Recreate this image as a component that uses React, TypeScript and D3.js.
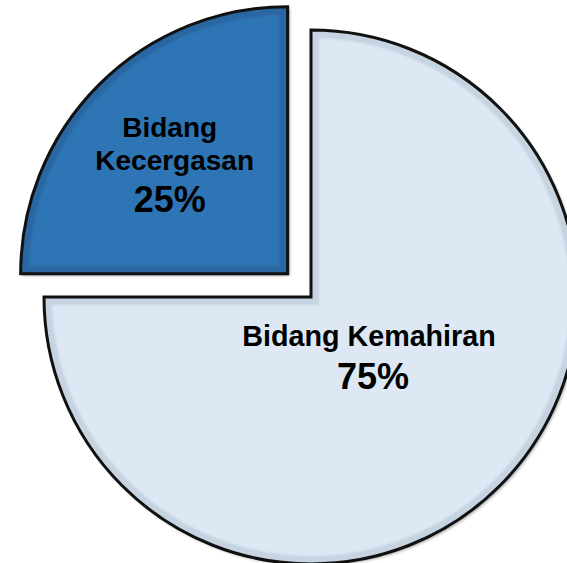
import React from "react";
import * as d3 from "d3";

const categories = ["Bidang Kemahiran", "Bidang Kecergasan"];
const values = [75, 25];
const labelLines = [["Bidang Kemahiran"], ["Bidang", "Kecergasan"]];
const percentLabels = ["75%", "25%"];

const W = 567;
const H = 563;
const CX = 311;
const CY = 297;
const R = 267;
const EXPLODE = [0, 33];
const FILLS = ["#dde8f4", "#2e74b5"];
const BANDS = ["#c6d3e0", "#2966a2"];
const FONT = "'Liberation Sans', Arial, Helvetica, sans-serif";

export default function App() {
  const pie = d3.pie<number>().sort(null).startAngle(0).endAngle(2 * Math.PI);
  const arcs = pie(values);
  const arcGen = d3.arc<d3.PieArcDatum<number>>().innerRadius(0).outerRadius(R);

  // label placement relative to slice centre
  const labelPos = [
    { xs: [58], dy: 49, px: 62, pdy: 92, fs: 28.7 },
    { xs: [-118, -113], dy: -137, px: -118, pdy: -62, fs: 28 },
  ];

  return (
    <svg width={W} height={H} style={{ position: "absolute", left: 0, top: 0, background: "#fff" }}>
      <defs>
        <filter id="shadow" x="-10%" y="-10%" width="130%" height="130%">
          <feDropShadow dx="2" dy="2" stdDeviation="1.5" floodColor="#000" floodOpacity="0.35" />
        </filter>
        <filter id="soft" x="-10%" y="-10%" width="130%" height="130%">
          <feGaussianBlur stdDeviation="0.8" />
        </filter>
        {arcs.map((a, i) => (
          <clipPath id={`clip${i}`} key={i}>
            <path d={arcGen(a) || ""} />
          </clipPath>
        ))}
      </defs>
      {arcs.map((a, i) => {
        const mid = (a.startAngle + a.endAngle) / 2;
        const ox = Math.sin(mid) * EXPLODE[i];
        const oy = -Math.cos(mid) * EXPLODE[i];
        const d = arcGen(a) || "";
        const lp = labelPos[i];
        return (
          <g key={categories[i]} transform={`translate(${CX + ox},${CY + oy})`}>
            <g filter="url(#shadow)">
              <path d={d} fill={FILLS[i]} />
            </g>
            <g clipPath={`url(#clip${i})`}>
              <path d={d} fill="none" stroke={BANDS[i]} strokeWidth={16} filter="url(#soft)" />
            </g>
            <path d={d} fill="none" stroke="#111" strokeWidth={3} strokeLinejoin="miter" />
            <g fontFamily={FONT} fontWeight="bold" fill="#000" textAnchor="middle">
              {labelLines[i].map((t, j) => (
                <text key={j} x={lp.xs[j]} y={lp.dy + j * 33} fontSize={lp.fs}>
                  {t}
                </text>
              ))}
              <text x={lp.px} y={lp.pdy} fontSize={36}>
                {percentLabels[i]}
              </text>
            </g>
          </g>
        );
      })}
    </svg>
  );
}
